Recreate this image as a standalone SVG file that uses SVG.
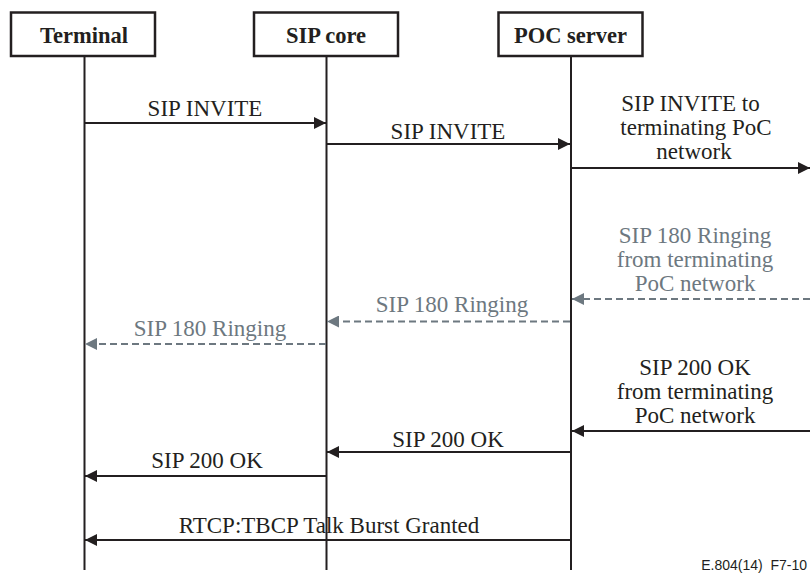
<svg xmlns="http://www.w3.org/2000/svg" width="810" height="579" viewBox="0 0 810 579">
<style>
.box{fill:#fff;stroke:#231f20;stroke-width:2.5}
.life{stroke:#231f20;stroke-width:2;fill:none}
.msg{stroke:#231f20;stroke-width:2;fill:none}
.dash{stroke:#6d7880;stroke-width:2;fill:none;stroke-dasharray:7 4}
.hd{font-family:"Liberation Serif","Times New Roman",serif;font-weight:bold;font-size:22.5px;fill:#231f20;text-anchor:middle}
.lb{font-family:"Liberation Serif","Times New Roman",serif;font-size:23px;fill:#231f20;text-anchor:middle}
.gl{font-family:"Liberation Serif","Times New Roman",serif;font-size:23px;fill:#6d7880;text-anchor:middle}
.ft{font-family:"Liberation Sans",Arial,sans-serif;font-size:14px;fill:#231f20;text-anchor:end}
</style>
<defs>
<marker id="ah" viewBox="0 0 12 12" refX="12" refY="6" markerWidth="12" markerHeight="12" markerUnits="userSpaceOnUse" orient="auto">
<path d="M0,0 L12,6 L0,12 Z" fill="#231f20"/>
</marker>
<marker id="ag" viewBox="0 0 12 12" refX="12" refY="6" markerWidth="12" markerHeight="12" markerUnits="userSpaceOnUse" orient="auto">
<path d="M0,0 L12,6 L0,12 Z" fill="#6d7880"/>
</marker>
</defs>
<g id="terminal">
<rect class="box" x="11" y="12.5" width="144" height="43.5"/>
<text class="hd" x="84" y="43">Terminal</text>
<line class="life" x1="84.5" y1="56" x2="84.5" y2="570"/>
</g>
<g id="sipcore">
<rect class="box" x="254" y="12.5" width="144" height="43.5"/>
<text class="hd" x="326" y="43">SIP core</text>
<line class="life" x1="326.5" y1="56" x2="326.5" y2="570"/>
</g>
<g id="pocserver">
<rect class="box" x="498.5" y="12.5" width="144" height="43.5"/>
<text class="hd" x="570.5" y="43">POC server</text>
<line class="life" x1="571" y1="56" x2="571" y2="570"/>
</g>
<g id="connectors">
<line class="msg" x1="85" y1="123" x2="326" y2="123" marker-end="url(#ah)"/>
<line class="msg" x1="327" y1="144" x2="570" y2="144" marker-end="url(#ah)"/>
<line class="msg" x1="572" y1="168" x2="810" y2="168" marker-end="url(#ah)"/>
<line class="dash" x1="810" y1="299" x2="572" y2="299" marker-end="url(#ag)"/>
<line class="dash" x1="570" y1="321.5" x2="327" y2="321.5" marker-end="url(#ag)"/>
<line class="dash" x1="326" y1="344" x2="85" y2="344" marker-end="url(#ag)"/>
<line class="msg" x1="810" y1="431" x2="572" y2="431" marker-end="url(#ah)"/>
<line class="msg" x1="570" y1="452" x2="327" y2="452" marker-end="url(#ah)"/>
<line class="msg" x1="326" y1="476" x2="85" y2="476" marker-end="url(#ah)"/>
<line class="msg" x1="570" y1="540" x2="85" y2="540" marker-end="url(#ah)"/>
</g>
<g id="labels">
<text class="lb" x="205" y="116">SIP INVITE</text>
<text class="lb" x="448" y="139">SIP INVITE</text>
<text class="lb" x="690.5" y="110.5">SIP INVITE to</text>
<text class="lb" x="696" y="135">terminating PoC</text>
<text class="lb" x="694" y="159">network</text>
<text class="gl" x="695" y="243">SIP 180 Ringing</text>
<text class="gl" x="695" y="267">from terminating</text>
<text class="gl" x="695" y="291">PoC network</text>
<text class="gl" x="452" y="312">SIP 180 Ringing</text>
<text class="gl" x="210" y="335.5">SIP 180 Ringing</text>
<text class="lb" x="695" y="375">SIP 200 OK</text>
<text class="lb" x="695" y="399">from terminating</text>
<text class="lb" x="695" y="423">PoC network</text>
<text class="lb" x="448" y="447">SIP 200 OK</text>
<text class="lb" x="207" y="468">SIP 200 OK</text>
<text class="lb" x="329" y="533">RTCP:TBCP Talk Burst Granted</text>
<text class="ft" x="807" y="570">E.804(14)&#160; F7-10</text>
</g>
</svg>
